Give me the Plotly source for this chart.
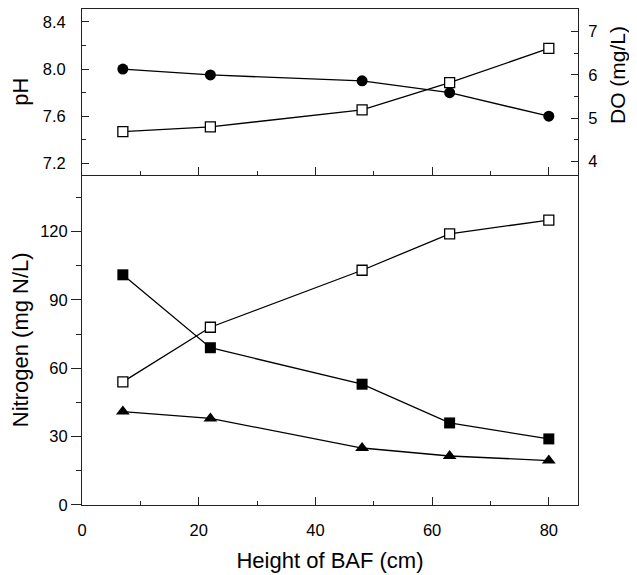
import plotly.graph_objects as go

# ---- data ----
height_cm = [7, 22, 48, 63, 80]
ph_values = [8.00, 7.95, 7.90, 7.80, 7.60]
do_values = [4.69, 4.80, 5.19, 5.82, 6.61]
nitrogen_filled_sq = [101, 69, 53, 36, 29]
nitrogen_open_sq = [54, 78, 103, 119, 125]
nitrogen_triangle = [41, 38, 25, 21.5, 19.5]

FONT = "Liberation Sans, Arial, sans-serif"
LW = 1.3
MS = 11
TITLE_SIZE = 22
TICK_SIZE = 16.5

fig = go.Figure()

line = dict(color="black", width=LW)

# upper panel
fig.add_trace(go.Scatter(x=height_cm, y=ph_values, xaxis="x2", yaxis="y2", mode="lines+markers",
                         line=line, marker=dict(symbol="circle", size=MS, color="black"), name="pH"))
fig.add_trace(go.Scatter(x=height_cm, y=do_values, xaxis="x2", yaxis="y3", mode="lines+markers",
                         line=line, marker=dict(symbol="square", size=MS-1, color="white",
                                                line=dict(color="black", width=1.3)), name="DO"))
# lower panel
fig.add_trace(go.Scatter(x=height_cm, y=nitrogen_open_sq, xaxis="x", yaxis="y", mode="lines+markers",
                         line=line, marker=dict(symbol="square", size=MS-1, color="white",
                                                line=dict(color="black", width=1.3)), name="N open"))
fig.add_trace(go.Scatter(x=height_cm, y=nitrogen_filled_sq, xaxis="x", yaxis="y", mode="lines+markers",
                         line=line, marker=dict(symbol="square", size=MS, color="black"), name="N filled"))
fig.add_trace(go.Scatter(x=height_cm, y=nitrogen_triangle, xaxis="x", yaxis="y", mode="lines+markers",
                         line=line, marker=dict(symbol="triangle-up", size=MS+1, color="black"), name="N tri"))

split = 0.6663
axcommon = dict(showgrid=False, zeroline=False, showline=True, linecolor="#222", linewidth=1,
                automargin=False,
                tickcolor="#222", tickwidth=1, tickfont=dict(family=FONT, size=TICK_SIZE, color="black"))

fig.update_layout(
    width=629, height=567,
    margin=dict(l=74, r=59, t=1, b=70, autoexpand=False),
    paper_bgcolor="white", plot_bgcolor="white",
    showlegend=False,
    font=dict(family=FONT, color="black"),
    xaxis=dict(**axcommon, domain=[0, 1], range=[0, 85], anchor="y", tick0=0, dtick=20,
               ticks="inside", ticklen=8, ticklabelstandoff=10,
               minor=dict(dtick=10, tick0=0, ticks="inside", ticklen=4, tickcolor="#222"),
               title=dict(text="Height of BAF (cm)", font=dict(family=FONT, size=TITLE_SIZE), standoff=14)),
    xaxis2=dict(**axcommon, domain=[0, 1], range=[0, 85], anchor="y2", tick0=0, dtick=20,
                ticks="inside", ticklen=8, showticklabels=False, mirror=True,
                minor=dict(dtick=10, tick0=0, ticks="inside", ticklen=4, tickcolor="#222")),
    yaxis=dict(**axcommon, domain=[0, split], range=[0, 145], anchor="x", tick0=0, dtick=30,
               ticks="outside", ticklen=10, mirror=True,
               minor=dict(dtick=15, tick0=0, ticks="outside", ticklen=5, tickcolor="#222"),
               title=dict(text="Nitrogen (mg N/L)", font=dict(family=FONT, size=TITLE_SIZE), standoff=10)),
    yaxis2=dict(**axcommon, domain=[split, 1], range=[7.105, 8.51], anchor="x2", tick0=7.2, dtick=0.4,
                tickformat=".1f", ticks="inside", ticklen=7, ticklabelstandoff=12,
                minor=dict(dtick=0.2, tick0=7.2, ticks="inside", ticklen=4, tickcolor="#222"),
                title=dict(text="pH", font=dict(family=FONT, size=TITLE_SIZE), standoff=12)),
    yaxis3=dict(**axcommon, overlaying="y2", side="right", anchor="x2", range=[3.70, 7.52],
                tick0=4, dtick=1, ticks="inside", ticklen=7, ticklabelstandoff=6,
                minor=dict(dtick=0.5, tick0=4, ticks="inside", ticklen=4, tickcolor="#222")),
    annotations=[dict(text="DO (mg/L)", xref="paper", yref="paper", x=1.0807, y=0.867,
                      xanchor="center", yanchor="middle", textangle=-90, showarrow=False,
                      font=dict(family=FONT, size=21, color="black"))],
)

fig.write_html("out.html")
